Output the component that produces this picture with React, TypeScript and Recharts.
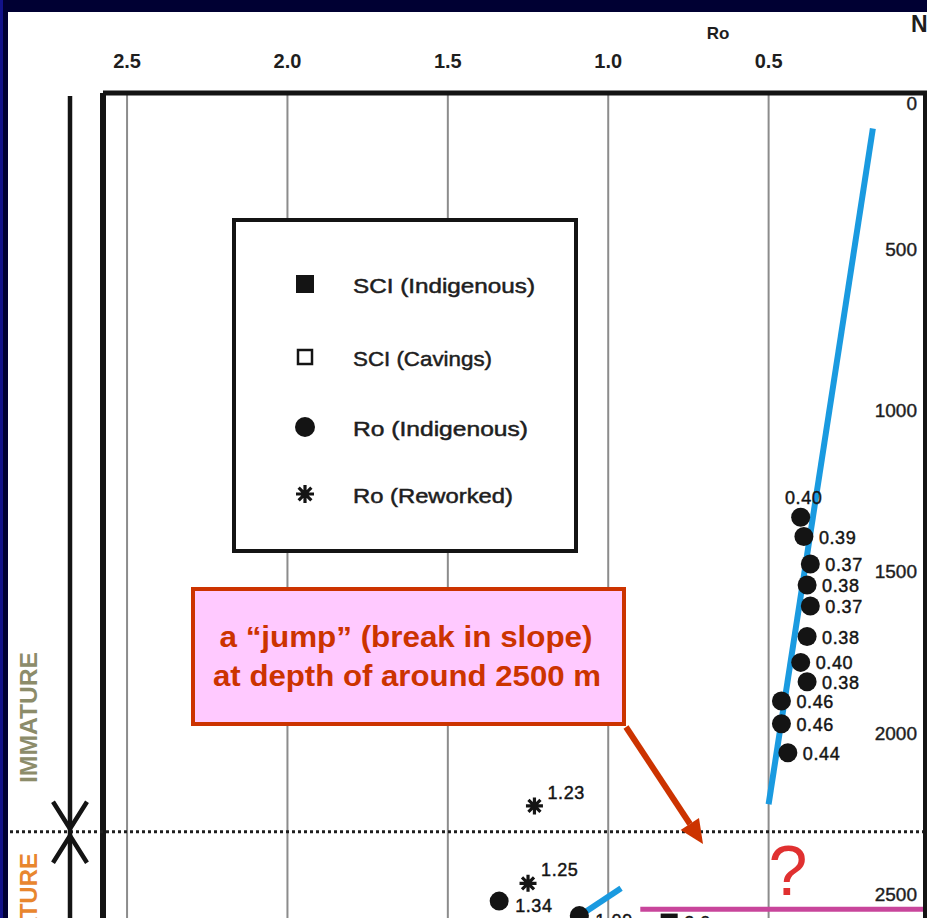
import React from 'react';
import { ComposedChart, Scatter, XAxis, YAxis, CartesianGrid, ReferenceLine, Legend } from 'recharts';

// ---------------- data ----------------
const roTicks = [0.5, 1.0, 1.5, 2.0, 2.5];
const depthTicks = [0, 500, 1000, 1500, 2000, 2500];

const roIndigenousValues = [0.40, 0.39, 0.37, 0.38, 0.37, 0.38, 0.40, 0.38, 0.46, 0.46, 0.44, 1.34, 1.09];
const roIndigenousDepths = [1315, 1375, 1460, 1525, 1590, 1685, 1765, 1825, 1885, 1955, 2045, 2505, 2550];

const roReworkedValues = [1.23, 1.25];
const roReworkedDepths = [2210, 2450];

const sciIndigenousRo = [0.81];
const sciIndigenousDepths = [2570];
const sciIndigenousLabels = ['2.0'];

const sciCavingsRo: number[] = [];
const sciCavingsDepths: number[] = [];

const trendUpperRo = [0.175, 0.5];
const trendUpperDepths = [110, 2205];
const trendLowerRo = [0.96, 1.24];
const trendLowerDepths = [2465, 2650];

const maturityBoundaryDepth = 2290;
const formationTopDepth = 2530;
const formationTopRoExtent = 0.9;

const seriesNames = ['SCI (Indigenous)', 'SCI (Cavings)', 'Ro (Indigenous)', 'Ro (Reworked)'];

// ---------------- table rows built from the arrays ----------------
const rows = (xs: number[], ds: number[], labels?: string[]) =>
  xs.map((ro, i) => ({ ro, depth: ds[i], label: labels ? labels[i] : ro.toFixed(2) }));

const roIndigenousRows = rows(roIndigenousValues, roIndigenousDepths);
const roReworkedRows = rows(roReworkedValues, roReworkedDepths);
const sciIndigenousRows = rows(sciIndigenousRo, sciIndigenousDepths, sciIndigenousLabels);
const sciCavingsRows = rows(sciCavingsRo, sciCavingsDepths);
const trendUpperRows = rows(trendUpperRo, trendUpperDepths);
const trendLowerRows = rows(trendLowerRo, trendLowerDepths);

// ---------------- styles ----------------
const FONT = '"Liberation Sans", Arial, sans-serif';
const INK = '#141414';
const BLUE = '#1a9ae0';
const ACCENT = '#cc3300';

// label placement (style only), by point index
const roIndLabelPlace = ['top', 'right', 'right', 'right', 'right', 'right', 'right', 'right', 'right', 'right', 'right', 'low', 'low'];

const placeOffset: Record<string, [number, number, string]> = {
  top: [3, -19, 'middle'],
  right: [15, 1, 'start'],
  low: [16, 5, 'start'],
  upright: [13, -13, 'start'],
};

const DataLabel = ({ x, y, text, place }: any) => {
  const [dx, dy, anchor] = placeOffset[place] || placeOffset.right;
  return (
    <text x={x + dx} y={y + dy} textAnchor={anchor} dominantBaseline="central" fontSize={18}
      fontFamily={FONT} fill={INK} stroke={INK} strokeWidth={0.45} letterSpacing={0.6}>{text}</text>
  );
};

const idxOf = (props: any, list: any[]) =>
  typeof props.index === 'number' ? props.index : list.indexOf(props.payload);

const CircleShape = (props: any) => {
  const { cx, cy, payload } = props;
  if (cx == null || cy == null) return <g />;
  const i = idxOf(props, roIndigenousRows);
  return (
    <g>
      <circle cx={cx} cy={cy} r={9.5} fill={INK} />
      <DataLabel x={cx} y={cy} text={payload?.label} place={roIndLabelPlace[i] || 'right'} />
    </g>
  );
};

const starPath = (cx: number, cy: number, s: number) => {
  const d = s * 0.7071;
  return `M${cx - s},${cy}L${cx + s},${cy}M${cx},${cy - s}L${cx},${cy + s}M${cx - d},${cy - d}L${cx + d},${cy + d}M${cx - d},${cy + d}L${cx + d},${cy - d}`;
};

const StarShape = (props: any) => {
  const { cx, cy, payload } = props;
  if (cx == null || cy == null) return <g />;
  return (
    <g>
      <path d={starPath(cx, cy, 8.5)} stroke={INK} strokeWidth={3.2} fill="none" />
      <DataLabel x={cx} y={cy} text={payload?.label} place="upright" />
    </g>
  );
};

const FilledSquareShape = (props: any) => {
  const { cx, cy, payload } = props;
  if (cx == null || cy == null) return <g />;
  return (
    <g>
      <rect x={cx - 8.5} y={cy - 8.5} width={17} height={17} fill={INK} />
      <DataLabel x={cx} y={cy} text={payload?.label} place="right" />
    </g>
  );
};

const OpenSquareShape = (props: any) => {
  const { cx, cy } = props;
  if (cx == null || cy == null) return <g />;
  return <rect x={cx - 7} y={cy - 7} width={14} height={14} fill="#fff" stroke={INK} strokeWidth={2.5} />;
};

const NoShape = () => <g />;

const XTick = (props: any) => {
  const { x, y, payload } = props;
  return (
    <text x={x} y={y} textAnchor="middle" fontSize={20} fontWeight={700} fontFamily={FONT} fill="#1e1e1e">
      {Number(payload.value).toFixed(1)}
    </text>
  );
};

const YTick = (props: any) => {
  const { x, y, payload } = props;
  const dy = payload.value === 0 ? 10 : -5;
  return (
    <text x={x} y={y + dy} textAnchor="end" dominantBaseline="central" fontSize={19} fontFamily={FONT}
      fill="#1e1e1e" stroke="#1e1e1e" strokeWidth={0.4}>
      {payload.value}
    </text>
  );
};

const BoundaryShape = (p: any) => {
  const y = p.y1;
  return (
    <g>
      <line x1={10} y1={y} x2={927} y2={y} stroke="#1e1e1e" strokeWidth={3} strokeDasharray="3 3" />
      <polyline points={`53,${y - 30} 70,${y - 3} 87,${y - 30}`} fill="none" stroke={INK} strokeWidth={4.5} />
      <polyline points={`53,${y + 31} 70,${y + 4} 87,${y + 31}`} fill="none" stroke={INK} strokeWidth={4.5} />
    </g>
  );
};

const legendRowY = [66, 139, 209, 276];
const legendTextLen: Record<string, number> = {
  'SCI (Indigenous)': 182,
  'SCI (Cavings)': 139,
  'Ro (Indigenous)': 175,
  'Ro (Reworked)': 160,
};

const LegendIcon = ({ name, cx, cy }: any) => {
  if (name === 'SCI (Indigenous)') return <rect x={cx - 9} y={cy - 9} width={18} height={18} fill={INK} />;
  if (name === 'SCI (Cavings)') return <rect x={cx - 7} y={cy - 7} width={14} height={14} fill="#fff" stroke={INK} strokeWidth={2.5} />;
  if (name === 'Ro (Indigenous)') return <circle cx={cx} cy={cy} r={10} fill={INK} />;
  return <path d={starPath(cx, cy, 9)} stroke={INK} strokeWidth={3.2} fill="none" />;
};

const LegendBox = (props: any) => {
  const present: string[] = (props?.payload || []).map((e: any) => e && e.value);
  const names = seriesNames.filter((n) => present.length === 0 || present.includes(n));
  return (
    <svg width={346} height={335} style={{ display: 'block' }}>
      <rect x={2} y={2} width={342} height={331} fill="#fff" stroke={INK} strokeWidth={4} />
      {names.map((n, i) => (
        <g key={n}>
          <LegendIcon name={n} cx={73} cy={legendRowY[i]} />
          <text x={121} y={legendRowY[i] + 1} dominantBaseline="central" fontSize={21} fontFamily={FONT}
            fill="#1e1e1e" stroke="#1e1e1e" strokeWidth={0.5}
            textLength={legendTextLen[n]} lengthAdjust="spacingAndGlyphs">{n}</text>
        </g>
      ))}
    </svg>
  );
};

export default function App() {
  return (
    <div style={{ position: 'absolute', left: 0, top: 0, width: 927, height: 918, overflow: 'hidden', background: '#000033' }}>
      <div style={{ position: 'absolute', left: 0, top: 0, width: 3, height: 918, background: '#12128a' }} />
      <div style={{ position: 'absolute', left: 8, top: 12, width: 919, height: 906, background: '#ffffff' }} />
      <div style={{ position: 'absolute', left: 0, top: 0 }}>
        <ComposedChart width={940} height={964} margin={{ top: 53, right: 11, bottom: 0, left: 103 }}>
          <CartesianGrid horizontal={false} stroke="#8c8c8c" strokeWidth={2} />
          <XAxis type="number" dataKey="ro" orientation="top" reversed domain={[0, 2.575]} ticks={roTicks}
            allowDataOverflow height={40} tickLine={false} tickSize={0} tickMargin={25}
            axisLine={{ stroke: INK, strokeWidth: 5 }} tick={<XTick />} />
          <YAxis type="number" dataKey="depth" orientation="right" mirror reversed domain={[0, 2700]} ticks={depthTicks}
            allowDataOverflow width={60} tickLine={false} tickSize={0} tickMargin={12}
            axisLine={{ stroke: INK, strokeWidth: 12 }} tick={<YTick />} />
          <Legend layout="vertical" align="center" verticalAlign="middle"
            wrapperStyle={{ left: 232, top: 218, width: 346, height: 335 }} content={<LegendBox />} />
          <ReferenceLine x={2.575} stroke={INK} strokeWidth={6} />
          <ReferenceLine y={maturityBoundaryDepth} shape={BoundaryShape} />
          <ReferenceLine segment={[{ x: formationTopRoExtent, y: formationTopDepth }, { x: 0, y: formationTopDepth }]}
            stroke="#c8459b" strokeWidth={5} />
          <Scatter name="trend upper" data={trendUpperRows} line={{ stroke: BLUE, strokeWidth: 6 }} lineType="joint"
            shape={NoShape} legendType="none" isAnimationActive={false} />
          <Scatter name="trend lower" data={trendLowerRows} line={{ stroke: BLUE, strokeWidth: 6 }} lineType="joint"
            shape={NoShape} legendType="none" isAnimationActive={false} />
          <Scatter name={seriesNames[0]} data={sciIndigenousRows} shape={FilledSquareShape} legendType="square" fill={INK} isAnimationActive={false} />
          <Scatter name={seriesNames[1]} data={sciCavingsRows} shape={OpenSquareShape} legendType="square" fill="#fff" isAnimationActive={false} />
          <Scatter name={seriesNames[2]} data={roIndigenousRows} shape={CircleShape} legendType="circle" fill={INK} isAnimationActive={false} />
          <Scatter name={seriesNames[3]} data={roReworkedRows} shape={StarShape} legendType="star" fill={INK} isAnimationActive={false} />
        </ComposedChart>
      </div>
      <svg width={927} height={918} style={{ position: 'absolute', left: 0, top: 0, pointerEvents: 'none' }}>
        <line x1={70} y1={96} x2={70} y2={918} stroke={INK} strokeWidth={4.5} />
        <text transform="translate(37,717.5) rotate(-90)" textAnchor="middle" fontSize={24} fontWeight={700}
          fontFamily={FONT} fill="#8c8c6a" textLength={131} lengthAdjust="spacingAndGlyphs">IMMATURE</text>
        <text transform="translate(37,853) rotate(-90)" textAnchor="end" fontSize={24} fontWeight={700}
          fontFamily={FONT} fill="#e8862e">MATURE</text>
        <text x={718} y={39} textAnchor="middle" fontSize={17} fontWeight={700} fontFamily={FONT} fill="#1e1e1e">Ro</text>
        <text x={911} y={32} fontSize={23} fontWeight={700} fontFamily={FONT} fill="#1e1e1e">NO</text>
        <rect x={193} y={589} width={431} height={135} fill="#ffc9ff" stroke={ACCENT} strokeWidth={4} />
        <text x={406} y={647} textAnchor="middle" fontSize={29} fontWeight={700} fontFamily={FONT} fill={ACCENT}
          textLength={373} lengthAdjust="spacingAndGlyphs">a “jump” (break in slope)</text>
        <text x={407} y={686} textAnchor="middle" fontSize={29} fontWeight={700} fontFamily={FONT} fill={ACCENT}
          textLength={388} lengthAdjust="spacingAndGlyphs">at depth of around 2500 m</text>
        <line x1={626} y1={727} x2={690} y2={824} stroke={ACCENT} strokeWidth={6} />
        <polygon points="703,844 680.6,830 699,817.9" fill={ACCENT} />
        <text x={788} y={895} textAnchor="middle" fontSize={70} fontFamily={FONT} fill="#e03030">?</text>
      </svg>
    </div>
  );
}
